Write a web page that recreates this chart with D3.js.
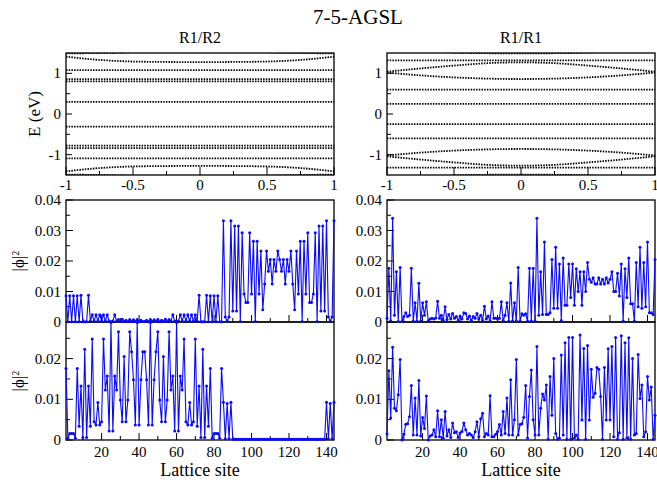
<!DOCTYPE html>
<html>
<head>
<meta charset="utf-8">
<script src="https://cdn.jsdelivr.net/npm/d3@7"></script>
<style>
  body { margin: 0; background: #fff; }
  svg { display: block; }
  text { font-family: "Liberation Serif", "Times New Roman", serif; fill: #000; }
</style>
</head>
<body>
<svg id="chart" width="657" height="483"></svg>
<script>
// ---- data ---------------------------------------------------------------
const chartTitle = "7-5-AGSL";
const panelTitles = ["R1/R2", "R1/R1"];
const energyLabel = "E (eV)";
const siteLabel = "Lattice site";

// wave vector samples for the band energies (units of pi/a)
const kPoints = [-1, -0.75, -0.5, -0.25, 0, 0.25, 0.5, 0.75, 1];

// band energies (eV) at kPoints, R1/R2 junction
const bandsR1R2 = [
  [1.49, 1.50, 1.52, 1.58, 1.60, 1.58, 1.52, 1.50, 1.49],
  [1.41, 1.33, 1.29, 1.28, 1.275, 1.28, 1.29, 1.33, 1.41],
  [1.08, 1.08, 1.08, 1.08, 1.08, 1.08, 1.08, 1.08, 1.08],
  [0.86, 0.86, 0.86, 0.86, 0.86, 0.86, 0.86, 0.86, 0.86],
  [0.80, 0.80, 0.80, 0.80, 0.80, 0.80, 0.80, 0.80, 0.80],
  [0.30, 0.30, 0.30, 0.30, 0.30, 0.30, 0.30, 0.30, 0.30],
  [-0.31, -0.31, -0.31, -0.31, -0.31, -0.31, -0.31, -0.31, -0.31],
  [-0.78, -0.78, -0.78, -0.78, -0.78, -0.78, -0.78, -0.78, -0.78],
  [-0.84, -0.84, -0.84, -0.84, -0.84, -0.84, -0.84, -0.84, -0.84],
  [-1.09, -1.09, -1.09, -1.09, -1.09, -1.09, -1.09, -1.09, -1.09],
  [-1.41, -1.33, -1.29, -1.28, -1.275, -1.28, -1.29, -1.33, -1.41],
  [-1.49, -1.50, -1.52, -1.58, -1.60, -1.58, -1.52, -1.50, -1.49]
];

// band energies (eV) at kPoints, R1/R1 junction
const bandsR1R1 = [
  [1.62, 1.55, 1.51, 1.495, 1.49, 1.495, 1.51, 1.55, 1.62],
  [1.32, 1.32, 1.32, 1.32, 1.32, 1.32, 1.32, 1.32, 1.32],
  [1.04, 1.12, 1.19, 1.25, 1.27, 1.25, 1.19, 1.12, 1.04],
  [1.02, 0.95, 0.90, 0.87, 0.86, 0.87, 0.90, 0.95, 1.02],
  [0.60, 0.60, 0.60, 0.60, 0.60, 0.60, 0.60, 0.60, 0.60],
  [0.25, 0.25, 0.25, 0.25, 0.25, 0.25, 0.25, 0.25, 0.25],
  [-0.25, -0.25, -0.25, -0.25, -0.25, -0.25, -0.25, -0.25, -0.25],
  [-0.60, -0.60, -0.60, -0.60, -0.60, -0.60, -0.60, -0.60, -0.60],
  [-1.02, -0.95, -0.90, -0.87, -0.86, -0.87, -0.90, -0.95, -1.02],
  [-1.04, -1.12, -1.19, -1.25, -1.27, -1.25, -1.19, -1.12, -1.04],
  [-1.32, -1.32, -1.32, -1.32, -1.32, -1.32, -1.32, -1.32, -1.32],
  [-1.62, -1.55, -1.51, -1.495, -1.49, -1.495, -1.51, -1.55, -1.62]
];

// |phi|^2 on lattice sites 1..144, upper state, R1/R2
const probUpperR1R2 = [
  .0086, .0001, .0086, .0001, .0086, .0001, .0086, .0001, .0088, .0001, .0001, .0001,
  .0088, .0003, .0024, .0003, .0024, .0003, .0024, .0003, .0024, .0003, .0024, .0003,
  .0001, .0003, .0024, .0003, .0008, .0002, .0009, .0002, .0006, .0001, .0008, .0002,
  .0007, .0002, .0008, .0001, .0006, .0002, .0002, .0006, .0001, .0008, .0002, .0007,
  .0002, .0008, .0001, .0006, .0002, .0009, .0002, .0008, .0003, .0024, .0003, .0001,
  .0003, .0024, .0003, .0024, .0003, .0024, .0003, .0024, .0003, .0024, .0003, .0088,
  .0001, .0001, .0001, .0088, .0001, .0086, .0001, .0086, .0001, .0086, .0001, .0001,
  .0332, .0016, .0003, .0016, .0332, .0036, .0315, .0036, .0315, .0002, .0293, .0092,
  .0064, .0064, .0293, .0092, .0265, .0002, .0265, .0092, .0233, .0040, .0125, .0233,
  .0166, .0205, .0125, .0205, .0166, .0233, .0205, .0166, .0205, .0125, .0205, .0166,
  .0233, .0125, .0040, .0233, .0092, .0265, .0002, .0265, .0092, .0293, .0064, .0064,
  .0092, .0293, .0002, .0315, .0036, .0315, .0036, .0332, .0016, .0003, .0016, .0332
];

// |phi|^2 on lattice sites 1..144, upper state, R1/R1
const probUpperR1R1 = [
  .0012, .0176, .0004, .0340, .0022, .0165, .0002, .0179, .0002, .0018, .0030, .0018,
  .0022, .0176, .0003, .0063, .0003, .0127, .0003, .0063, .0022, .0066, .0003, .0010,
  .0012, .0010, .0013, .0068, .0012, .0022, .0005, .0050, .0008, .0025, .0010, .0028,
  .0012, .0018, .0005, .0020, .0010, .0030, .0028, .0010, .0020, .0005, .0018, .0012,
  .0028, .0010, .0022, .0005, .0052, .0010, .0020, .0003, .0066, .0012, .0012, .0010,
  .0012, .0066, .0005, .0022, .0063, .0003, .0128, .0003, .0063, .0003, .0179, .0003,
  .0027, .0022, .0027, .0003, .0176, .0003, .0176, .0003, .0340, .0022, .0165, .0025,
  .0262, .0025, .0025, .0030, .0205, .0045, .0245, .0045, .0190, .0005, .0210, .0055,
  .0055, .0190, .0080, .0190, .0055, .0175, .0100, .0165, .0055, .0165, .0100, .0195,
  .0140, .0130, .0145, .0125, .0125, .0145, .0125, .0140, .0125, .0145, .0128, .0140,
  .0165, .0100, .0100, .0160, .0085, .0190, .0003, .0175, .0080, .0210, .0060, .0060,
  .0003, .0195, .0050, .0245, .0045, .0195, .0050, .0262, .0030, .0030, .0025, .0205
];

// |phi|^2 on lattice sites 1..144, lower state, R1/R2
const probLowerR1R2 = [
  .0176, .0004, .0016, .0016, .0016, .0004, .0176, .0034, .0133, .0006, .0223, .0006,
  .0133, .0034, .0248, .0045, .0037, .0092, .0037, .0045, .0248, .0123, .0157, .0022,
  .0289, .0022, .0157, .0123, .0266, .0098, .0045, .0205, .0045, .0098, .0266, .0217,
  .0148, .0037, .0289, .0037, .0148, .0217, .0217, .0148, .0037, .0289, .0037, .0148,
  .0217, .0266, .0098, .0045, .0205, .0045, .0098, .0266, .0123, .0157, .0022, .0289,
  .0022, .0157, .0123, .0248, .0045, .0037, .0092, .0037, .0045, .0248, .0034, .0133,
  .0006, .0223, .0006, .0133, .0034, .0176, .0004, .0016, .0016, .0016, .0004, .0176,
  .0093, .0003, .0090, .0003, .0093, .0002, .0002, .0002, .0002, .0002, .0002, .0002,
  .0002, .0002, .0002, .0002, .0002, .0002, .0002, .0002, .0002, .0002, .0002, .0002,
  .0002, .0002, .0002, .0002, .0002, .0002, .0002, .0002, .0002, .0002, .0002, .0002,
  .0002, .0002, .0002, .0002, .0002, .0002, .0002, .0002, .0002, .0002, .0002, .0002,
  .0002, .0002, .0002, .0002, .0002, .0002, .0002, .0093, .0003, .0090, .0003, .0093
];

// |phi|^2 on lattice sites 1..144, lower state, R1/R1
const probLowerR1R1 = [
  .0015, .0170, .0054, .0228, .0078, .0072, .0111, .0198, .0000, .0014, .0039, .0040,
  .0057, .0134, .0012, .0103, .0012, .0146, .0010, .0055, .0028, .0108, .0000, .0010,
  .0012, .0025, .0008, .0072, .0008, .0050, .0004, .0070, .0010, .0025, .0006, .0042,
  .0018, .0020, .0006, .0017, .0021, .0042, .0025, .0012, .0016, .0012, .0006, .0020,
  .0045, .0008, .0052, .0066, .0008, .0016, .0012, .0109, .0008, .0008, .0014, .0021,
  .0038, .0012, .0070, .0016, .0103, .0012, .0148, .0012, .0050, .0198, .0012, .0038,
  .0040, .0056, .0134, .0005, .0107, .0172, .0050, .0012, .0230, .0012, .0078, .0113,
  .0098, .0135, .0002, .0156, .0061, .0200, .0016, .0002, .0005, .0209, .0012, .0239,
  .0002, .0252, .0002, .0252, .0005, .0012, .0002, .0258, .0049, .0225, .0002, .0232,
  .0049, .0174, .0105, .0115, .0178, .0174, .0107, .0002, .0178, .0049, .0224, .0049,
  .0230, .0008, .0252, .0002, .0018, .0256, .0002, .0239, .0005, .0251, .0002, .0200,
  .0012, .0016, .0210, .0102, .0135, .0008, .0020, .0156, .0098, .0130, .0002, .0061
];

// axis ticks and their labels
const kMajorTicks = [-1, -0.5, 0, 0.5, 1];
const kMajorLabels = ["-1", "-0.5", "0", "0.5", "1"];
const kMinorTicks = [-0.75, -0.25, 0.25, 0.75];
const eMajorTicks = [-1, 0, 1];
const eMajorLabels = ["-1", "0", "1"];
const eMinorTicks = [-0.5, 0.5];
const siteMajorTicks = [20, 40, 60, 80, 100, 120, 140];
const siteMajorLabels = ["20", "40", "60", "80", "100", "120", "140"];
const siteMinorTicks = [10, 30, 50, 70, 90, 110, 130];
const probUpperTicks = [0, 0.01, 0.02, 0.03, 0.04];
const probUpperLabels = ["0", "0.01", "0.02", "0.03", "0.04"];
const probUpperMinor = [0.005, 0.015, 0.025, 0.035];
const probLowerTicks = [0, 0.01, 0.02];
const probLowerLabels = ["0", "0.01", "0.02"];
const probLowerMinor = [0.005, 0.015, 0.025];

// ---- layout -------------------------------------------------------------
const svg = d3.select("#chart");
const columns = [
  { x0: 66, x1: 334, bands: bandsR1R2, upper: probUpperR1R2, lower: probLowerR1R2, title: panelTitles[0], yLabels: true },
  { x0: 387, x1: 655, bands: bandsR1R1, upper: probUpperR1R1, lower: probLowerR1R1, title: panelTitles[1], yLabels: false }
];
const bandRow = [53, 175], upperRow = [200, 322], lowerRow = [322, 440];
const MAJ = 7, MIN = 4;
const blue = "#0a0aff";

svg.append("text").attr("x", 358).attr("y", 24).attr("text-anchor", "middle")
  .style("font-size", "21px").text(chartTitle);

function frame(g, x0, x1, y0, y1) {
  g.append("rect").attr("x", x0).attr("y", y0).attr("width", x1 - x0).attr("height", y1 - y0)
    .attr("fill", "none").attr("stroke", "#000").attr("stroke-width", 1.3);
}
function leftTicks(g, ys, x0, vals, len) {
  g.selectAll(null).data(vals).join("line")
    .attr("x1", x0).attr("x2", x0 + len)
    .attr("y1", d => ys(d)).attr("y2", d => ys(d))
    .attr("stroke", "#000").attr("stroke-width", 1);
}
function bottomTicks(g, xs, y1, vals, len) {
  g.selectAll(null).data(vals).join("line")
    .attr("x1", d => xs(d)).attr("x2", d => xs(d))
    .attr("y1", y1).attr("y2", y1 - len)
    .attr("stroke", "#000").attr("stroke-width", 1);
}
function leftLabels(g, ys, x0, vals, labels) {
  g.selectAll(null).data(vals).join("text")
    .attr("x", x0 - 5).attr("y", d => ys(d)).attr("dy", "0.34em")
    .attr("text-anchor", "end").style("font-size", "15px")
    .text((d, i) => labels[i]);
}
function phiLabel(cy) {
  const t = svg.append("text").attr("transform", `translate(24,${cy}) rotate(-90)`)
    .attr("text-anchor", "middle").style("font-size", "17px");
  t.append("tspan").text("|ϕ|");
  t.append("tspan").attr("dy", "-0.5em").style("font-size", "10px").text("2");
}

columns.forEach((c, ci) => {
  const g = svg.append("g");

  // --- band structure panel ---
  const kx = d3.scaleLinear().domain([-1, 1]).range([c.x0, c.x1]);
  const ey = d3.scaleLinear().domain([-1.5, 1.5]).range([bandRow[1], bandRow[0]]);
  const clipId = "clip" + ci;
  svg.append("clipPath").attr("id", clipId).append("rect")
    .attr("x", c.x0).attr("y", bandRow[0]).attr("width", c.x1 - c.x0).attr("height", bandRow[1] - bandRow[0]);
  const bandLine = d3.line().x((d, i) => kx(kPoints[i])).y(d => ey(d)).curve(d3.curveMonotoneX);
  g.append("g").attr("clip-path", `url(#${clipId})`)
    .selectAll("path").data(c.bands).join("path")
    .attr("d", bandLine).attr("fill", "none").attr("stroke", "#000")
    .attr("stroke-width", 1.8).attr("stroke-dasharray", "1.5 1.2");
  frame(g, c.x0, c.x1, bandRow[0], bandRow[1]);
  leftTicks(g, ey, c.x0, eMajorTicks, MAJ - 1);
  leftTicks(g, ey, c.x0, eMinorTicks, MIN);
  bottomTicks(g, kx, bandRow[1], kMajorTicks, MAJ + 1);
  bottomTicks(g, kx, bandRow[1], kMinorTicks, MIN);
  leftLabels(g, ey, c.x0, eMajorTicks, eMajorLabels);
  g.selectAll(null).data(kMajorTicks).join("text")
    .attr("x", d => kx(d)).attr("y", 190).attr("text-anchor", "middle")
    .style("font-size", "15px").text((d, i) => kMajorLabels[i]);
  g.append("text").attr("x", (c.x0 + c.x1) / 2).attr("y", 43).attr("text-anchor", "middle")
    .style("font-size", "16px").text(c.title);

  // --- wavefunction panels ---
  const sx = d3.scaleLinear().domain([1, 144]).range([c.x0, c.x1]);
  const uy = d3.scaleLinear().domain([0, 0.04]).range([upperRow[1], upperRow[0]]);
  const ly = d3.scaleLinear().domain([0, 0.029]).range([lowerRow[1], lowerRow[0]]);

  frame(g, c.x0, c.x1, upperRow[0], upperRow[1]);
  frame(g, c.x0, c.x1, lowerRow[0], lowerRow[1]);
  leftTicks(g, uy, c.x0, probUpperTicks, MAJ);
  leftTicks(g, uy, c.x0, probUpperMinor, MIN);
  bottomTicks(g, sx, upperRow[1], siteMajorTicks, MAJ);
  bottomTicks(g, sx, upperRow[1], siteMinorTicks, MIN);
  leftTicks(g, ly, c.x0, probLowerTicks, MAJ);
  leftTicks(g, ly, c.x0, probLowerMinor, MIN);
  bottomTicks(g, sx, lowerRow[1], siteMajorTicks, MAJ);
  bottomTicks(g, sx, lowerRow[1], siteMinorTicks, MIN);
  leftLabels(g, uy, c.x0, probUpperTicks, probUpperLabels);
  leftLabels(g, ly, c.x0, probLowerTicks, probLowerLabels);
  g.selectAll(null).data(siteMajorTicks).join("text")
    .attr("x", d => sx(d)).attr("y", 457).attr("text-anchor", "middle")
    .style("font-size", "15px").text((d, i) => siteMajorLabels[i]);
  g.append("text").attr("x", (c.x0 + c.x1) / 2).attr("y", 476).attr("text-anchor", "middle")
    .style("font-size", "18px").text(siteLabel);

  [[c.upper, uy], [c.lower, ly]].forEach(([vals, ys]) => {
    const line = d3.line().x((d, i) => sx(i + 1)).y(d => ys(d));
    g.append("path").datum(vals).attr("d", line)
      .attr("fill", "none").attr("stroke", blue).attr("stroke-width", 1.1).attr("stroke-linejoin", "round");
    g.selectAll(null).data(vals).join("circle")
      .attr("cx", (d, i) => sx(i + 1)).attr("cy", d => ys(d)).attr("r", 1.5).attr("fill", blue);
  });

  if (c.yLabels) {
    svg.append("text").attr("transform", `translate(40,${(bandRow[0] + bandRow[1]) / 2}) rotate(-90)`)
      .attr("text-anchor", "middle").style("font-size", "17px").text(energyLabel);
    phiLabel((upperRow[0] + upperRow[1]) / 2);
    phiLabel((lowerRow[0] + lowerRow[1]) / 2);
  }
});
</script>
</body>
</html>
